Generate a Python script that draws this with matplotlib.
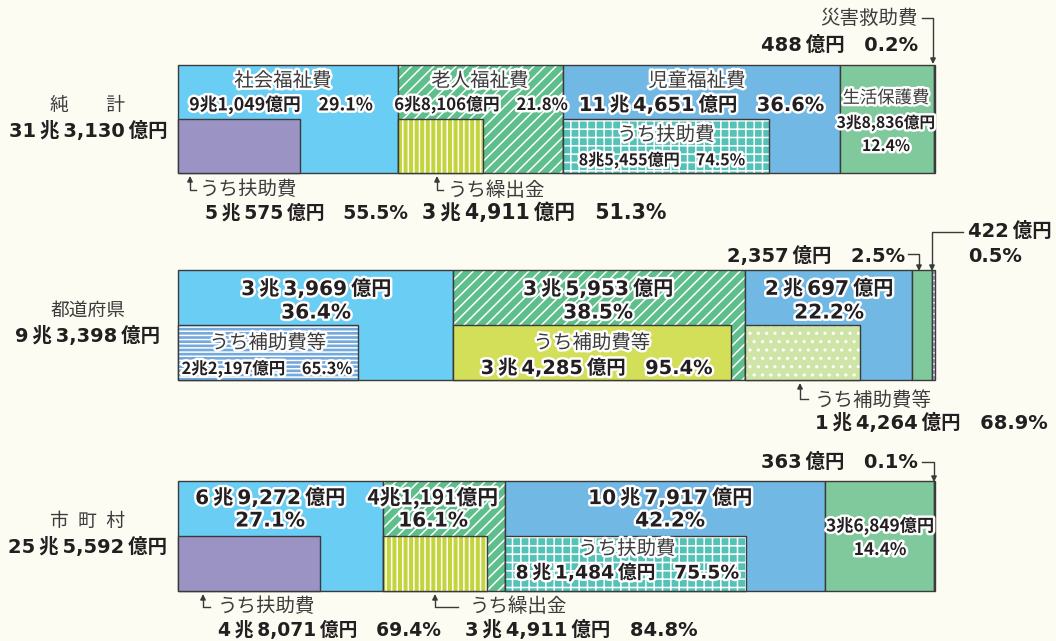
import matplotlib
matplotlib.use('Agg')
import matplotlib.pyplot as plt
import matplotlib.patheffects as pe
import numpy as np

plt.rcParams['font.family'] = ['Noto Sans CJK JP', 'DejaVu Sans']
plt.rcParams['hatch.linewidth'] = 1.1

# ---------------- data (億円) ----------------
row_names = ['純\u3000\u3000計', '都道府県', '市\u2002町\u2002村']
row_totals = [313130, 93398, 255592]
categories = ['社会福祉費', '老人福祉費', '児童福祉費', '生活保護費', '災害救助費']

net_values = [91049, 68106, 114651, 38836, 488]
net_pct = [29.1, 21.8, 36.6, 12.4, 0.2]
pref_values = [33969, 35953, 20697, 2357, 422]
pref_pct = [36.4, 38.5, 22.2, 2.5, 0.5]
muni_values = [69272, 41191, 107917, 36849, 363]
muni_pct = [27.1, 16.1, 42.2, 14.4, 0.1]

net_sub_labels = ['うち扶助費', 'うち繰出金', 'うち扶助費']
net_sub_values = [50575, 34911, 85455]
net_sub_pct = [55.5, 51.3, 74.5]
pref_sub_labels = ['うち補助費等', 'うち補助費等', 'うち補助費等']
pref_sub_values = [22197, 34285, 14264]
pref_sub_pct = [65.3, 95.4, 68.9]
muni_sub_labels = ['うち扶助費', 'うち繰出金', 'うち扶助費']
muni_sub_values = [48071, 34911, 81484]
muni_sub_pct = [69.4, 84.8, 75.5]
sub_parent = [0, 1, 2]

# ---------------- styles ----------------
W, H = 1056, 641
BG = '#fdfcf3'
EDGE = '#3a3a3a'
TXT = '#231f20'
GREY = '#3c3c3c'
seg_styles = [('#6acdf4', None), ('#5fbf8c', '///'), ('#72b8e5', None),
              ('#80c99c', None), ('#9d96c8', '---')]
sub_styles_a = [('#9a93c3', None), ('#c3d43c', '|||'), ('#55c2b8', '++')]
sub_styles_b = [('#73a9dd', '----'), ('#d3de59', None), ('#cfe5a7', '..')]

THIN = '\u2009'
SP = '\u3000'
WIDE_FAMILY = ['DejaVu Sans', 'Noto Sans CJK JP']
NARROW_FAMILY = ['Noto Sans CJK JP', 'DejaVu Sans']


def fmt(v, gap=''):
    cho, oku = divmod(v, 10000)
    if cho:
        return f'{cho}{gap}兆{gap}{oku:,}{gap}億円'
    return f'{oku:,}{gap}億円'


def pct(p):
    return f'{p}%'


fig = plt.figure(figsize=(W / 100, H / 100), dpi=100, facecolor=BG)

bar_x0, bar_x1 = 178, 935
row_y = [(65, 173), (270, 380), (481, 591)]


def make_axes(y0, y1):
    ax = fig.add_axes([bar_x0 / W, 1 - y1 / H, (bar_x1 - bar_x0) / W, (y1 - y0) / H])
    ax.set_ylim(0, 1)
    ax.axis('off')
    return ax


def draw_bar(ax, left, width, y, h, color, hatch):
    ax.barh(y, width, left=left, height=h, color=color, edgecolor='none', linewidth=0)
    if hatch:
        ax.barh(y, width, left=left, height=h, color='none', edgecolor='white',
                hatch=hatch, linewidth=0)
    ax.barh(y, width, left=left, height=h, fill=False, edgecolor=EDGE,
            linewidth=1.0, clip_on=False)


def draw_row(idx, values, sub_values, sub_styles):
    y0, y1 = row_y[idx]
    ax = make_axes(y0, y1)
    ax.set_xlim(0, row_totals[idx])
    lefts = np.concatenate([[0], np.cumsum(values)[:-1]])
    for i, v in enumerate(values):
        draw_bar(ax, lefts[i], v, 0.5, 1.0, *seg_styles[i])
    for j, v in enumerate(sub_values):
        draw_bar(ax, lefts[sub_parent[j]], v, 0.25, 0.5, *sub_styles[j])
    return ax


draw_row(0, net_values, net_sub_values, sub_styles_a)
draw_row(1, pref_values, pref_sub_values, sub_styles_b)
draw_row(2, muni_values, muni_sub_values, sub_styles_a)

# overlay for text & callouts
ov = fig.add_axes([0, 0, 1, 1], zorder=5)
ov.set_xlim(0, W)
ov.set_ylim(H, 0)
ov.axis('off')
ov.patch.set_alpha(0)

stroke = [pe.withStroke(linewidth=3.5, foreground='white')]


def put(x, y, s, size, weight='bold', color=TXT, ha='center', st=True, wide=False):
    ov.text(x, y, s, fontsize=size, fontweight=weight, color=color, ha=ha,
            va='center', family=WIDE_FAMILY if wide else NARROW_FAMILY,
            path_effects=stroke if st else None)


def label(x, y, s, ha='left', st=False):
    put(x, y, s, 14, weight='normal', color=GREY, ha=ha, st=st)


def wnum(v, p=None):
    s = fmt(v, THIN)
    if p is not None:
        s += SP + pct(p)
    return s


# left labels
for i in range(3):
    y0, y1 = row_y[i]
    put(88, y0 + 40, row_names[i], 13.5, weight='normal', color=GREY, st=False)
    put(88, y0 + 66, fmt(row_totals[i], THIN), 14, st=False, wide=True)

# ---- row 1 (純計) ----
label(283, 81, categories[0], ha='center', st=True)
put(281, 105, fmt(net_values[0]) + SP + pct(net_pct[0]), 12.8)
label(480, 81, categories[1], ha='center', st=True)
put(481, 105, fmt(net_values[1]) + SP + pct(net_pct[1]), 12.1)
label(697, 81, categories[2], ha='center', st=True)
put(702, 105, wnum(net_values[2], net_pct[2]), 14, wide=True)
put(886, 98, categories[3], 12.5, weight='normal', color=GREY)
put(886, 123, fmt(net_values[3]), 11.3)
put(886, 146, pct(net_pct[3]), 11.3)
label(666, 135, net_sub_labels[2], ha='center', st=True)
put(662, 160, fmt(net_sub_values[2]) + SP + pct(net_sub_pct[2]), 11.6)


def elbow_up(x, y_tip, y_text, x_end):
    ov.plot([x, x, x_end], [y_tip + 4, y_text, y_text], color=EDGE, lw=1)
    ov.annotate('', xy=(x, y_tip), xytext=(x, y_tip + 6),
                arrowprops=dict(arrowstyle='-|>', color=EDGE, lw=1,
                                mutation_scale=8, shrinkA=0, shrinkB=0))


def elbow_down(x_from, y_line, x_tip, y_tip):
    ov.plot([x_from, x_tip, x_tip], [y_line, y_line, y_tip - 5], color=EDGE, lw=1)
    ov.annotate('', xy=(x_tip, y_tip), xytext=(x_tip, y_tip - 6),
                arrowprops=dict(arrowstyle='-|>', color=EDGE, lw=1,
                                mutation_scale=8, shrinkA=0, shrinkB=0))


# callouts below row 1
elbow_up(190, 176, 190, 196)
label(200, 190, net_sub_labels[0])
put(205, 213, wnum(net_sub_values[0], net_sub_pct[0]), 13.5, ha='left', st=False, wide=True)
elbow_up(437, 176, 190, 443)
label(448, 190, net_sub_labels[1])
put(422, 213, wnum(net_sub_values[1], net_sub_pct[1]), 14.8, ha='left', st=False, wide=True)

# 災害救助費 callout
label(918, 18, categories[4], ha='right')
elbow_down(922, 18, 933, 64)
put(918, 45, wnum(net_values[4], net_pct[4]), 14, ha='right', st=False, wide=True)

# ---- row 2 (都道府県) ----
put(316, 289, wnum(pref_values[0]), 14.5, wide=True)
put(316, 313, pct(pref_pct[0]), 14.5, wide=True)
put(598, 289, wnum(pref_values[1]), 14.5, wide=True)
put(598, 313, pct(pref_pct[1]), 14.5, wide=True)
put(829, 289, wnum(pref_values[2]), 14.5, wide=True)
put(829, 313, pct(pref_pct[2]), 14.5, wide=True)
label(268, 343, pref_sub_labels[0], ha='center', st=True)
put(267, 369, fmt(pref_sub_values[0]) + SP + pct(pref_sub_pct[0]), 11.9)
label(592, 343, pref_sub_labels[1], ha='center', st=True)
put(597, 368, wnum(pref_sub_values[1], pref_sub_pct[1]), 14, wide=True)

put(905, 256, wnum(pref_values[3], pref_pct[3]), 14, ha='right', st=False, wide=True)
elbow_down(908, 254, 919, 271)
put(968, 231, wnum(pref_values[4]), 14, ha='left', st=False, wide=True)
put(968, 257, pct(pref_pct[4]), 14, ha='left', st=False, wide=True)
elbow_down(963, 232, 932, 271)

elbow_up(800, 383, 399, 808)
label(815, 400, pref_sub_labels[2])
put(815, 423, wnum(pref_sub_values[2], pref_sub_pct[2]), 14, ha='left', st=False, wide=True)

# ---- row 3 (市町村) ----
put(270, 498, wnum(muni_values[0]), 14.5, wide=True)
put(270, 521, pct(muni_pct[0]), 14.5, wide=True)
put(433, 498, fmt(muni_values[1]), 15)
put(433, 521, pct(muni_pct[1]), 14.5, wide=True)
put(670, 498, wnum(muni_values[2]), 14.5, wide=True)
put(670, 521, pct(muni_pct[2]), 14.5, wide=True)
put(880, 526, fmt(muni_values[3]), 12.4)
put(880, 550, pct(muni_pct[3]), 12.4)
label(627, 549, muni_sub_labels[2], ha='center', st=True)
put(627, 573, wnum(muni_sub_values[2], muni_sub_pct[2]), 13.5, wide=True)

put(918, 462, wnum(muni_values[4], muni_pct[4]), 14, ha='right', st=False, wide=True)
elbow_down(922, 462, 934, 482)

elbow_up(203, 594, 607, 210)
label(218, 607, muni_sub_labels[0])
put(218, 630, wnum(muni_sub_values[0], muni_sub_pct[0]), 13.5, ha='left', st=False, wide=True)
elbow_up(435, 594, 607, 458)
label(470, 607, muni_sub_labels[1])
put(465, 630, wnum(muni_sub_values[1], muni_sub_pct[1]), 14, ha='left', st=False, wide=True)

fig.savefig('out.png', dpi=100, facecolor=BG)
